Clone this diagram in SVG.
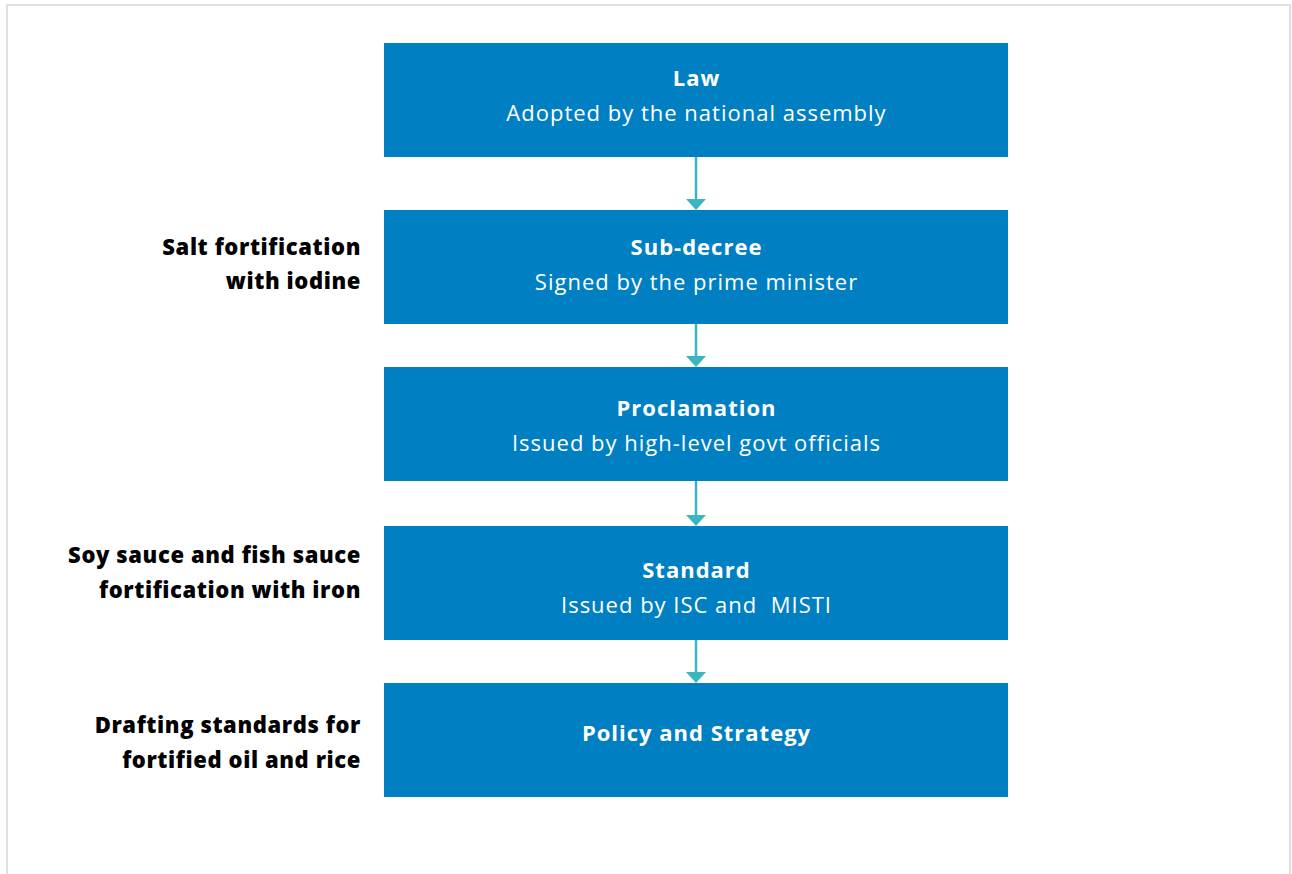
<svg xmlns="http://www.w3.org/2000/svg" width="1292" height="874" viewBox="0 0 1292 874">
<defs>
<style>
.box{fill:#0080c3}
.t{font-family:"Open Sans","Liberation Sans",sans-serif;font-size:22px;letter-spacing:1px;fill:#fff;text-anchor:middle}
.b{font-weight:bold}
.l{font-family:"Open Sans","Liberation Sans",sans-serif;font-size:22px;letter-spacing:0.6px;font-weight:800;fill:#000;text-anchor:end}
.c{stroke:#3ab6c0;stroke-width:2.5;fill:none}
.h{fill:#3ab6c0}
</style>
</defs>
<rect width="1292" height="874" fill="#fff"/>
<path d="M7,874 V5 H1290 V874" fill="none" stroke="#e0e0e0" stroke-width="2"/>
<g id="connectors">
<line class="c" x1="696" y1="157" x2="696" y2="200"/><path class="h" d="M686,199 L706,199 L696,210 Z"/>
<line class="c" x1="696" y1="324" x2="696" y2="357"/><path class="h" d="M686,356 L706,356 L696,367 Z"/>
<line class="c" x1="696" y1="481" x2="696" y2="516"/><path class="h" d="M686,515 L706,515 L696,526 Z"/>
<line class="c" x1="696" y1="640" x2="696" y2="673"/><path class="h" d="M686,672 L706,672 L696,683 Z"/>
</g>
<g id="law"><rect class="box" x="384" y="43" width="624" height="114"/><text class="t b" x="696.5" y="86">Law</text><text class="t" x="696.5" y="121">Adopted by the national assembly</text></g>
<g id="subdecree"><rect class="box" x="384" y="210" width="624" height="114"/><text class="t b" x="696.5" y="255">Sub-decree</text><text class="t" x="696.5" y="290">Signed by the prime minister</text></g>
<g id="proclamation"><rect class="box" x="384" y="367" width="624" height="114"/><text class="t b" x="696.5" y="416">Proclamation</text><text class="t" x="696.5" y="451">Issued by high-level govt officials</text></g>
<g id="standard"><rect class="box" x="384" y="526" width="624" height="114"/><text class="t b" x="696.5" y="578">Standard</text><text class="t" x="696.5" y="613" xml:space="preserve">Issued by ISC and  MISTI</text></g>
<g id="policy"><rect class="box" x="384" y="683" width="624" height="114"/><text class="t b" x="696.5" y="741">Policy and Strategy</text></g>
<g id="label-salt"><text class="l" x="361" y="255">Salt fortification</text><text class="l" x="361" y="289">with iodine</text></g>
<g id="label-soy"><text class="l" x="361" y="563">Soy sauce and fish sauce</text><text class="l" x="361" y="598">fortification with iron</text></g>
<g id="label-draft"><text class="l" x="361" y="733">Drafting standards for</text><text class="l" x="361" y="768">fortified oil and rice</text></g>
</svg>
